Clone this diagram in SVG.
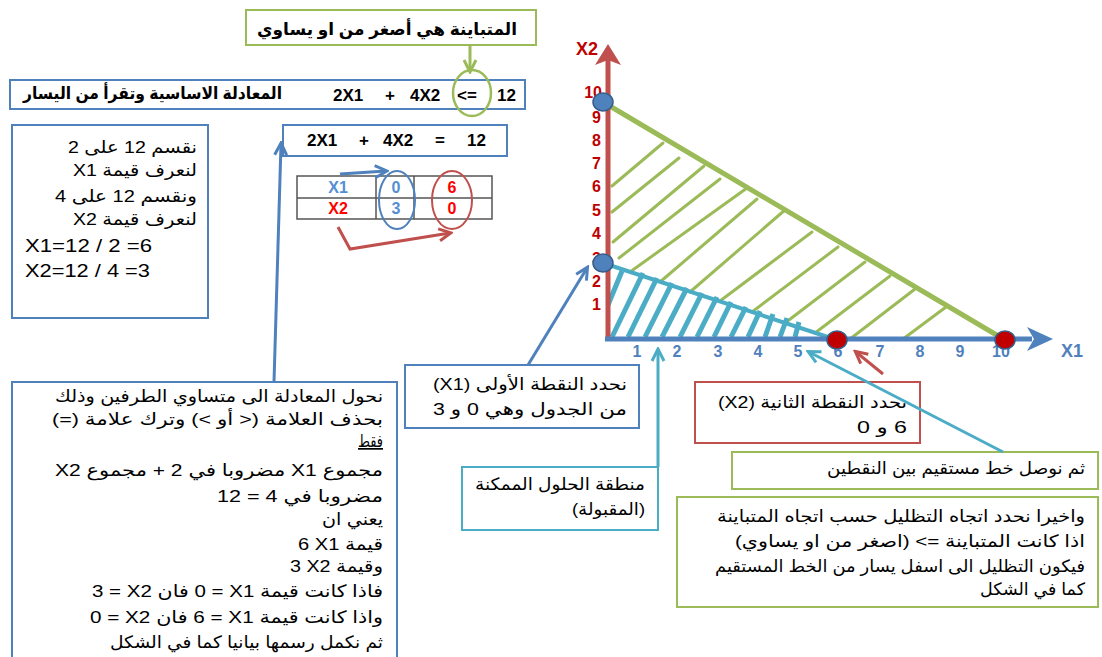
<svg xmlns="http://www.w3.org/2000/svg" width="1102" height="657" viewBox="0 0 1102 657">
<style>
.box{fill:#fff;stroke-width:2}
.bb{stroke:#4F81BD}.bg{stroke:#9BBB59}.br{stroke:#C0504D}.bc{stroke:#4BACC6}
.ar{font-family:"Liberation Sans","DejaVu Sans",sans-serif;font-size:17px;fill:#000;direction:rtl;text-anchor:start}
.lt{font-family:"Liberation Sans","DejaVu Sans",sans-serif;font-size:19px;fill:#000}
.eq{font-family:"Liberation Sans",sans-serif;font-size:17px;font-weight:bold;fill:#000}
.tb{font-family:"Liberation Sans",sans-serif;font-size:16px;font-weight:bold;text-anchor:middle}
.yn{font-family:"Liberation Sans",sans-serif;font-size:16px;font-weight:bold;fill:#C00000;text-anchor:end}
.xn{font-family:"Liberation Sans",sans-serif;font-size:16px;font-weight:bold;fill:#4F81BD;text-anchor:middle}
.gh{stroke:#9BBB59;stroke-width:3;stroke-linecap:round}
.ch{stroke:#4BACC6;stroke-width:5;stroke-linecap:butt}
.con{fill:none;stroke-width:3}
</style>
<defs>
<marker id="ah-blue" viewBox="0 0 16 16" refX="13" refY="8" markerWidth="16" markerHeight="16" markerUnits="userSpaceOnUse" orient="auto"><path d="M2,2 L14,8 L2,14" fill="none" stroke="#4F81BD" stroke-width="3"/></marker>
<marker id="ah-green" viewBox="0 0 16 16" refX="13" refY="8" markerWidth="16" markerHeight="16" markerUnits="userSpaceOnUse" orient="auto"><path d="M2,2 L14,8 L2,14" fill="none" stroke="#9BBB59" stroke-width="3"/></marker>
<marker id="ah-cyan" viewBox="0 0 16 16" refX="13" refY="8" markerWidth="16" markerHeight="16" markerUnits="userSpaceOnUse" orient="auto"><path d="M2,2 L14,8 L2,14" fill="none" stroke="#4BACC6" stroke-width="3"/></marker>
<marker id="ah-red" viewBox="0 0 16 16" refX="13" refY="8" markerWidth="16" markerHeight="16" markerUnits="userSpaceOnUse" orient="auto"><path d="M2,2 L14,8 L2,14" fill="none" stroke="#C0504D" stroke-width="3"/></marker>
</defs>
<rect width="1102" height="657" fill="#fff"/>

<g id="graph">
 <g id="green-hatch">
  <line class="gh" x1="612" y1="186" x2="663" y2="143"/>
  <line class="gh" x1="612" y1="212" x2="679" y2="158"/>
  <line class="gh" x1="613" y1="242" x2="704" y2="166"/>
  <line class="gh" x1="619" y1="258" x2="720" y2="179"/>
  <line class="gh" x1="630" y1="272" x2="747" y2="188"/>
  <line class="gh" x1="660" y1="282" x2="757" y2="199"/>
  <line class="gh" x1="690" y1="292" x2="785" y2="210"/>
  <line class="gh" x1="720" y1="301" x2="812" y2="232"/>
  <line class="gh" x1="752" y1="312" x2="838" y2="247"/>
  <line class="gh" x1="785" y1="323" x2="865" y2="262"/>
  <line class="gh" x1="815" y1="333" x2="890" y2="276"/>
  <line class="gh" x1="850" y1="339" x2="915" y2="289"/>
  <line class="gh" x1="903" y1="339" x2="946" y2="307"/>
 </g>
 <g id="cyan-hatch">
  <line class="ch" x1="608" y1="305" x2="622" y2="271"/>
  <line class="ch" x1="612" y1="337" x2="643" y2="273"/>
  <line class="ch" x1="628" y1="337" x2="657" y2="278"/>
  <line class="ch" x1="645" y1="337" x2="672" y2="283"/>
  <line class="ch" x1="662" y1="337" x2="687" y2="288"/>
  <line class="ch" x1="680" y1="337" x2="702" y2="293"/>
  <line class="ch" x1="697" y1="337" x2="717" y2="297"/>
  <line class="ch" x1="714" y1="337" x2="731" y2="302"/>
  <line class="ch" x1="731" y1="337" x2="746" y2="307"/>
  <line class="ch" x1="748" y1="337" x2="760" y2="311"/>
  <line class="ch" x1="765" y1="337" x2="773" y2="314"/>
  <line class="ch" x1="780" y1="337" x2="787" y2="318"/>
  <line class="ch" x1="795" y1="337" x2="799" y2="322"/>
 </g>
 <line x1="603" y1="263" x2="837" y2="340" stroke="#4BACC6" stroke-width="4"/>
 <line x1="603" y1="102" x2="1005" y2="340" stroke="#9BBB59" stroke-width="5"/>
 <line x1="608" y1="340" x2="608" y2="60" stroke="#C0504D" stroke-width="5"/>
 <polygon points="608,44 621,65 608,60 595,65" fill="#C0504D"/>
 <line x1="605" y1="339" x2="1032" y2="339" stroke="#4F81BD" stroke-width="5"/>
 <polygon points="1053,339 1027,327 1034,339 1027,351" fill="#4F81BD"/>
 <text x="598" y="55" font-family="Liberation Sans,sans-serif" font-size="18" font-weight="bold" fill="#C00000" text-anchor="end">X2</text>
 <text x="1061" y="357" font-family="Liberation Sans,sans-serif" font-size="18" font-weight="bold" fill="#4F81BD">X1</text>
 <g id="y-ticks">
  <text class="yn" x="602" y="98">10</text>
  <text class="yn" x="601" y="123">9</text>
  <text class="yn" x="601" y="146">8</text>
  <text class="yn" x="601" y="169">7</text>
  <text class="yn" x="601" y="192">6</text>
  <text class="yn" x="601" y="216">5</text>
  <text class="yn" x="601" y="239">4</text>
  <text class="yn" x="601" y="264">3</text>
  <text class="yn" x="601" y="287">2</text>
  <text class="yn" x="601" y="310">1</text>
 </g>
 <g id="x-ticks">
  <text class="xn" x="637" y="357">1</text>
  <text class="xn" x="677" y="357">2</text>
  <text class="xn" x="718" y="357">3</text>
  <text class="xn" x="758" y="357">4</text>
  <text class="xn" x="798" y="357">5</text>
  <text class="xn" x="838" y="357">6</text>
  <text class="xn" x="880" y="357">7</text>
  <text class="xn" x="920" y="357">8</text>
  <text class="xn" x="960" y="357">9</text>
  <text class="xn" x="1001" y="357">10</text>
 </g>
 <ellipse cx="603" cy="102" rx="10" ry="9" fill="#4F81BD" stroke="#385D8A" stroke-width="1.5"/>
 <ellipse cx="603" cy="263" rx="10" ry="9" fill="#4F81BD" stroke="#385D8A" stroke-width="1.5"/>
 <ellipse cx="837" cy="340" rx="10" ry="9" fill="#C00000" stroke="#385D8A" stroke-width="1.5"/>
 <ellipse cx="1005" cy="340" rx="10" ry="9" fill="#C00000" stroke="#385D8A" stroke-width="1.5"/>
</g>

<g id="n-note">
 <rect class="box bg" x="246" y="10" width="290" height="35"/>
 <text class="ar" x="517" y="35" font-weight="bold" textLength="260" lengthAdjust="spacingAndGlyphs">المتباينة هي أصغر من او يساوي</text>
</g>

<g id="n-eq1">
 <rect class="box bb" x="10" y="80" width="515" height="29"/>
 <text class="ar" x="282" y="99" font-weight="bold" font-size="16" textLength="259" lengthAdjust="spacingAndGlyphs">المعادلة الاساسية وتقرأ من اليسار</text>
 <text class="eq" y="101"><tspan x="333">2X1</tspan><tspan x="385">+</tspan><tspan x="410">4X2</tspan><tspan x="457">&lt;=</tspan><tspan x="497">12</tspan></text>
 <ellipse cx="472" cy="93" rx="19" ry="23" fill="none" stroke="#9BBB59" stroke-width="2.5"/>
</g>

<g id="n-steps">
 <rect class="box bb" x="12" y="125" width="196" height="193"/>
 <text class="ar" x="197" y="153" font-size="19" textLength="129" lengthAdjust="spacingAndGlyphs">نقسم 12 على 2</text>
 <text class="ar" x="197" y="176" font-size="19" textLength="124" lengthAdjust="spacingAndGlyphs">لنعرف قيمة X1</text>
 <text class="ar" x="197" y="202" font-size="19" textLength="142" lengthAdjust="spacingAndGlyphs">ونقسم 12 على 4</text>
 <text class="ar" x="197" y="225" font-size="19" textLength="124" lengthAdjust="spacingAndGlyphs">لنعرف قيمة X2</text>
 <text class="lt" x="25" y="252" textLength="127" lengthAdjust="spacingAndGlyphs">X1=12 / 2 =6</text>
 <text class="lt" x="25" y="277" textLength="125" lengthAdjust="spacingAndGlyphs">X2=12 / 4 =3</text>
</g>

<g id="n-eq2">
 <rect class="box bb" x="283" y="125" width="224" height="31"/>
 <text class="eq" y="146"><tspan x="307">2X1</tspan><tspan x="359">+</tspan><tspan x="383">4X2</tspan><tspan x="435">=</tspan><tspan x="467">12</tspan></text>
</g>

<g id="n-table">
 <rect x="297" y="176" width="195" height="43" fill="#fff" stroke="#555" stroke-width="1.5"/>
 <line x1="297" y1="198" x2="492" y2="198" stroke="#555" stroke-width="1.5"/>
 <line x1="376" y1="176" x2="376" y2="219" stroke="#555" stroke-width="1.5"/>
 <line x1="414" y1="176" x2="414" y2="219" stroke="#555" stroke-width="1.5"/>
 <text class="tb" x="338" y="193" fill="#558ED5">X1</text>
 <text class="tb" x="338" y="214" fill="#FF0000">X2</text>
 <text class="tb" x="396" y="193" fill="#558ED5">0</text>
 <text class="tb" x="396" y="214" fill="#558ED5">3</text>
 <text class="tb" x="452" y="193" fill="#FF0000">6</text>
 <text class="tb" x="452" y="214" fill="#FF0000">0</text>
 <ellipse cx="397" cy="200" rx="18" ry="29" fill="none" stroke="#4F81BD" stroke-width="2"/>
 <ellipse cx="452" cy="200" rx="20" ry="29" fill="none" stroke="#C0504D" stroke-width="2"/>
</g>

<g id="n-explain">
 <rect class="box bb" x="12" y="382" width="385" height="290"/>
 <text class="ar" x="383" y="402" font-size="18" textLength="328" lengthAdjust="spacingAndGlyphs">نحول المعادلة الى متساوي الطرفين وذلك</text>
 <text class="ar" x="383" y="425" font-size="18" textLength="331" lengthAdjust="spacingAndGlyphs">بحذف العلامة (&lt; أو &gt;) وترك علامة (=)</text>
 <text class="ar" x="383" y="447" font-size="18" textLength="25" lengthAdjust="spacingAndGlyphs" text-decoration="underline">فقط</text>
 <text class="ar" x="383" y="476" font-size="18" textLength="328" lengthAdjust="spacingAndGlyphs">مجموع X1 مضروبا في 2 + مجموع X2</text>
 <text class="ar" x="383" y="502" font-size="18" textLength="166" lengthAdjust="spacingAndGlyphs">مضروبا في 4 = 12</text>
 <text class="ar" x="383" y="525" font-size="18" textLength="61" lengthAdjust="spacingAndGlyphs">يعني ان</text>
 <text class="ar" x="383" y="550" font-size="18" textLength="85" lengthAdjust="spacingAndGlyphs">قيمة X1&#x200F; 6</text>
 <text class="ar" x="383" y="572" font-size="18" textLength="93" lengthAdjust="spacingAndGlyphs">وقيمة X2&#x200F; 3</text>
 <text class="ar" x="383" y="597" font-size="18" textLength="291" lengthAdjust="spacingAndGlyphs">فاذا كانت قيمة X1&#x200F; = 0 فان X2&#x200F; = 3</text>
 <text class="ar" x="383" y="623" font-size="18" textLength="293" lengthAdjust="spacingAndGlyphs">واذا كانت قيمة X1&#x200F; = 6 فان X2&#x200F; = 0</text>
 <text class="ar" x="383" y="648" font-size="18" textLength="273" lengthAdjust="spacingAndGlyphs">ثم نكمل رسمها بيانيا كما في الشكل</text>
</g>

<g id="n-point1">
 <rect class="box bb" x="405" y="365" width="234" height="63"/>
 <text class="ar" x="627" y="390" font-size="18" textLength="194" lengthAdjust="spacingAndGlyphs">نحدد النقطة الأولى (X1)</text>
 <text class="ar" x="627" y="415" font-size="18" textLength="194" lengthAdjust="spacingAndGlyphs">من الجدول وهي  0 و 3</text>
</g>

<g id="n-region">
 <rect class="box bc" x="462" y="467" width="196" height="63"/>
 <text class="ar" x="645" y="490" textLength="170" lengthAdjust="spacingAndGlyphs">منطقة الحلول الممكنة</text>
 <text class="ar" x="645" y="515" textLength="73" lengthAdjust="spacingAndGlyphs">(المقبولة)</text>
</g>

<g id="n-point2">
 <rect class="box br" x="695" y="382" width="225" height="61"/>
 <text class="ar" x="907" y="408" font-size="18" textLength="189" lengthAdjust="spacingAndGlyphs">نحدد النقطة الثانية (X2)</text>
 <text class="ar" x="907" y="433" font-size="18" textLength="50" lengthAdjust="spacingAndGlyphs">6 و 0</text>
</g>

<g id="n-connect">
 <rect class="box bg" x="732" y="452" width="366" height="37"/>
 <text class="ar" x="1085" y="474" textLength="258" lengthAdjust="spacingAndGlyphs">ثم نوصل خط مستقيم بين النقطين</text>
</g>

<g id="n-final">
 <rect class="box bg" x="677" y="497" width="421" height="110"/>
 <text class="ar" x="1085" y="522" textLength="368" lengthAdjust="spacingAndGlyphs">واخيرا نحدد اتجاه التظليل حسب اتجاه المتباينة</text>
 <text class="ar" x="1085" y="547" textLength="350" lengthAdjust="spacingAndGlyphs">اذا كانت المتباينة =&gt; (اصغر من او يساوي)</text>
 <text class="ar" x="1085" y="572" textLength="370" lengthAdjust="spacingAndGlyphs">فيكون التظليل الى اسفل يسار من الخط المستقيم</text>
 <text class="ar" x="1085" y="595" textLength="105" lengthAdjust="spacingAndGlyphs">كما في الشكل</text>
</g>

<g id="connectors">
 <line class="con" x1="470" y1="45" x2="470" y2="71" stroke="#9BBB59" marker-end="url(#ah-green)"/>
 <line class="con" x1="274" y1="382" x2="281" y2="144" stroke="#4F81BD" marker-end="url(#ah-blue)"/>
 <line class="con" x1="340" y1="174" x2="386" y2="171" stroke="#4F81BD" marker-end="url(#ah-blue)"/>
 <polyline class="con" points="338,227 350,249 450,233" stroke="#C0504D" marker-end="url(#ah-red)"/>
 <line class="con" x1="528" y1="365" x2="587" y2="268" stroke="#4F81BD" marker-end="url(#ah-blue)"/>
 <line class="con" x1="658" y1="467" x2="658" y2="350" stroke="#4BACC6" marker-end="url(#ah-cyan)"/>
 <line class="con" x1="1003" y1="452" x2="809" y2="352" stroke="#4BACC6" marker-end="url(#ah-cyan)"/>
 <line class="con" x1="883" y1="374" x2="856" y2="352" stroke="#C0504D" marker-end="url(#ah-red)"/>
</g>
</svg>
